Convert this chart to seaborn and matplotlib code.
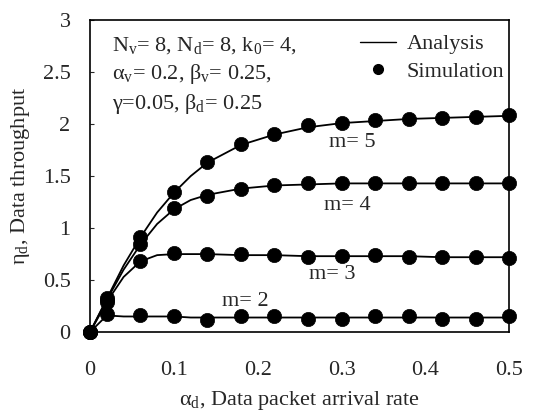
import numpy as np
import pandas as pd
import matplotlib
matplotlib.use("Agg")
import matplotlib.pyplot as plt
import seaborn as sns
from matplotlib.lines import Line2D

# Dữ liệu
x_sim = [0, 0.02, 0.06, 0.10, 0.14, 0.18, 0.22, 0.26, 0.30, 0.34, 0.38, 0.42, 0.46, 0.50]

sim_m5 = [0, 0.33, 0.91, 1.35, 1.64, 1.81, 1.91, 1.99, 2.01, 2.04, 2.05, 2.06, 2.07, 2.09]
sim_m4 = [0, 0.31, 0.85, 1.19, 1.31, 1.38, 1.41, 1.43, 1.43, 1.43, 1.43, 1.43, 1.43, 1.43]
sim_m3 = [0, 0.29, 0.68, 0.76, 0.75, 0.75, 0.74, 0.72, 0.73, 0.74, 0.72, 0.72, 0.72, 0.71]
sim_m2 = [0, 0.17, 0.16, 0.15, 0.12, 0.15, 0.15, 0.13, 0.13, 0.15, 0.15, 0.13, 0.13, 0.15]

x_ana = [0, 0.02, 0.04, 0.06, 0.08, 0.10, 0.12, 0.14, 0.18, 0.22, 0.26, 0.30, 0.34, 0.38, 0.42, 0.46, 0.50]
ana_m5 = [0, 0.32, 0.64, 0.91, 1.15, 1.34, 1.50, 1.63, 1.80, 1.90, 1.97, 2.01, 2.03, 2.05, 2.06, 2.07, 2.08]
ana_m4 = [0, 0.31, 0.60, 0.84, 1.04, 1.18, 1.27, 1.32, 1.38, 1.41, 1.42, 1.43, 1.43, 1.43, 1.43, 1.43, 1.43]
ana_m3 = [0, 0.29, 0.53, 0.68, 0.74, 0.75, 0.75, 0.75, 0.74, 0.74, 0.73, 0.73, 0.73, 0.73, 0.72, 0.72, 0.72]
ana_m2 = [0, 0.16, 0.15, 0.15, 0.15, 0.15, 0.14, 0.14, 0.14, 0.14, 0.14, 0.14, 0.14, 0.14, 0.14, 0.14, 0.14]

labels = ["m= 5", "m= 4", "m= 3", "m= 2"]
label_x = [0.313, 0.307, 0.289, 0.185]
label_y = [1.82, 1.22, 0.55, 0.29]

xticks = [0, 0.1, 0.2, 0.3, 0.4, 0.5]
xticklabels = ["0", "0.1", "0.2", "0.3", "0.4", "0.5"]
yticks = [0, 0.5, 1, 1.5, 2, 2.5, 3]
yticklabels = ["0", "0.5", "1", "1.5", "2", "2.5", "3"]

sns.set_style("ticks")
plt.rcParams["font.family"] = ["Liberation Serif", "DejaVu Serif"]
plt.rcParams["mathtext.fontset"] = "custom"
plt.rcParams["mathtext.rm"] = "Liberation Serif"
plt.rcParams["mathtext.it"] = "Liberation Serif"
plt.rcParams["mathtext.default"] = "regular"

FS = 16

fig = plt.figure(figsize=(5.36, 4.12), dpi=100)
ax = fig.add_axes([0.168, 0.194, 0.782, 0.757])

# Vẽ đường phân tích và điểm mô phỏng
for ana in [ana_m5, ana_m4, ana_m3, ana_m2]:
    sns.lineplot(x=x_ana, y=ana, ax=ax, color="black", linewidth=1.3)
for sim in [sim_m5, sim_m4, sim_m3, sim_m2]:
    sns.scatterplot(x=x_sim, y=sim, ax=ax, color="black", s=105, edgecolor="black",
                    linewidth=0.5, zorder=3, clip_on=False)

for t, lx, ly in zip(labels, label_x, label_y):
    ax.text(lx, ly, t, fontsize=FS, ha="center", va="center")

ax.text(0.026, 2.76, "N$_v$= 8, N$_d$= 8, k$_0$= 4,", fontsize=FS, va="center")
ax.text(0.026, 2.48, "α$_v$= 0.2, β$_v$= 0.25,", fontsize=FS, va="center")
ax.text(0.026, 2.19, "γ=0.05, β$_d$= 0.25", fontsize=FS, va="center")

handles = [Line2D([0], [0], color="black", linewidth=1.0),
           Line2D([0], [0], color="black", marker="o", linestyle="none", markersize=7)]
ax.legend(handles, ["Analysis", "Simulation"], loc="upper right", frameon=False,
          fontsize=FS, handlelength=1.6, handletextpad=0.5, labelspacing=0.3,
          bbox_to_anchor=(1.01, 0.985), borderaxespad=0.0)

ax.set_xlim(0, 0.5)
ax.set_ylim(0, 3)
ax.set_xticks(xticks)
ax.set_xticklabels(xticklabels)
ax.set_yticks(yticks)
ax.set_yticklabels(yticklabels)
ax.tick_params(axis="x", length=0, pad=21, labelsize=FS)
ax.tick_params(axis="y", length=3, direction="in", pad=14, labelsize=FS)
for sp in ax.spines.values():
    sp.set_visible(True)
    sp.set_linewidth(1.2)
    sp.set_color("black")

ax.set_xlabel("α$_d$, Data packet arrival rate", fontsize=FS, labelpad=6)
ax.set_ylabel("η$_d$, Data throughput", fontsize=FS, labelpad=8)

plt.savefig("out.png", dpi=100)
plt.close(fig)
